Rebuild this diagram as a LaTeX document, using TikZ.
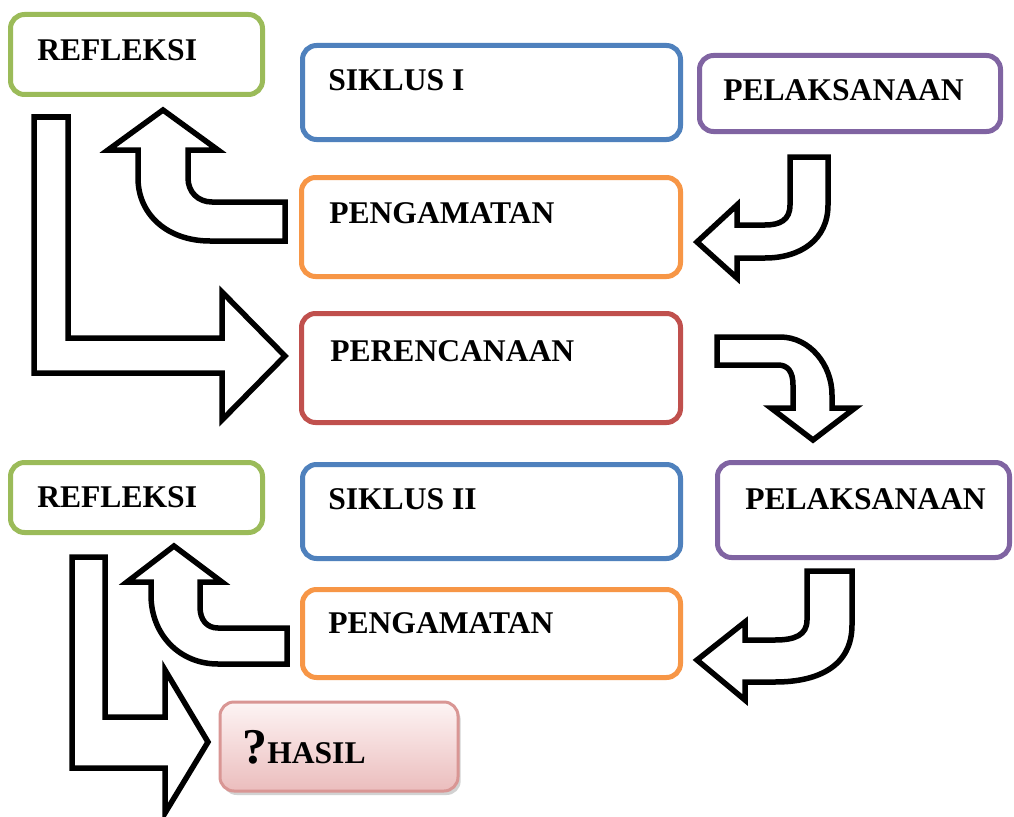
\documentclass[tikz,border=0pt]{standalone}
\usepackage{fontspec}
\setmainfont{Liberation Serif}
\usetikzlibrary{shadows}
\newcommand\upx{0.75pt}
\definecolor{cgreen}{HTML}{9BBB59}
\definecolor{cblue}{HTML}{4F81BD}
\definecolor{cpurple}{HTML}{8064A2}
\definecolor{corange}{HTML}{F79646}
\definecolor{cred}{HTML}{C0504D}
\definecolor{pinkborder}{HTML}{D99694}
\definecolor{pinktop}{HTML}{FDF4F4}
\definecolor{pinkbot}{HTML}{EBBDBD}
\tikzset{
  box/.style={draw=#1, line width=5*\upx, rounded corners=14*\upx, fill=white, inner sep=0pt},
  lbl/.style={anchor=base west, inner sep=0pt, font=\fontsize{23.7}{28}\selectfont\bfseries},
  blockarrow/.style={draw=black, fill=white, line width=5.5*\upx, line join=miter},
}
\begin{document}
\begin{tikzpicture}[x=0.75pt,y=-0.75pt]
\useasboundingbox[fill=white] (0,0) rectangle (1014,817);

% boxes
\node[box=cgreen, minimum width=252*\upx, minimum height=80*\upx] (ref1) at (136.5,54.5) {};
\node[box=cblue, minimum width=378*\upx, minimum height=94*\upx] (sik1) at (491.5,92.5) {};
\node[box=cpurple, minimum width=301*\upx, minimum height=76*\upx] (pel1) at (850,93.5) {};
\node[box=corange, minimum width=379*\upx, minimum height=99*\upx] (peng1) at (491,227) {};
\node[box=cred, minimum width=379*\upx, minimum height=109*\upx] (per) at (491,368) {};
\node[box=cgreen, minimum width=252*\upx, minimum height=70*\upx] (ref2) at (136.5,497.5) {};
\node[box=cblue, minimum width=378*\upx, minimum height=94*\upx] (sik2) at (491.5,511.5) {};
\node[box=cpurple, minimum width=292*\upx, minimum height=95*\upx] (pel2) at (863.5,510) {};
\node[box=corange, minimum width=378*\upx, minimum height=88*\upx] (peng2) at (491.5,633.5) {};
\node[draw=pinkborder, line width=3*\upx, rounded corners=14*\upx, top color=pinktop, bottom color=pinkbot,
      drop shadow={shadow xshift=2pt, shadow yshift=-3pt, opacity=0.35},
      minimum width=238*\upx, minimum height=89*\upx, inner sep=0pt] (hasil) at (339,746.5) {};

% labels
\node[lbl] (tref1) at (37,61) {REFLEKSI};
\node[lbl] (tsik1) at (328,90) {SIKLUS I};
\node[lbl] (tpel1) at (723,101) {PELAKSANAAN};
\node[lbl] (tpeng1) at (329,223) {PENGAMATAN};
\node[lbl] (tper) at (330,361) {PERENCANAAN};
\node[lbl] (tref2) at (37,507) {REFLEKSI};
\node[lbl] (tsik2) at (328,509) {SIKLUS II};
\node[lbl] (tpel2) at (745,509) {PELAKSANAAN};
\node[lbl] (tpeng2) at (328,633) {PENGAMATAN};
\node[lbl] (thasil) at (242,763) {{\fontsize{37.5}{40}\selectfont ?}HASIL};

% arrow A: pengamatan 1 -> refleksi 1
\draw[blockarrow] (285,202) -- (212,202) .. controls (198,202) and (188,192) .. (188,178)
  -- (188,150) -- (218,150) -- (163,110) -- (108,150) -- (138,150) -- (138,178)
  .. controls (138,215) and (168,241) .. (210,241) -- (285,241) -- cycle;

% arrow B: refleksi 1 -> perencanaan
\draw[blockarrow] (34,117) -- (68,117) -- (68,338) -- (222,338) -- (222,292) -- (285,356)
  -- (222,420) -- (222,373) -- (34,373) -- cycle;

% arrow C: pelaksanaan 1 -> pengamatan 1
\draw[blockarrow] (790,157) -- (828,157) -- (828,205) .. controls (828,240) and (800,258) .. (765,258)
  -- (737,258) -- (737,278) -- (697,242) -- (737,205) -- (737,225) -- (765,225)
  .. controls (780,225) and (790,220) .. (790,205) -- cycle;

% arrow D: perencanaan -> pelaksanaan 2
\draw[blockarrow] (717,337) -- (780,337) .. controls (810,337) and (832,365) .. (832,395)
  -- (832,408) -- (855,408) -- (813,440) -- (771,408) -- (793,408) -- (793,385)
  .. controls (793,372) and (788,365) .. (778,365) -- (717,365) -- cycle;

% arrow E: pengamatan 2 -> refleksi 2
\draw[blockarrow] (287,628) -- (218,628) .. controls (207,628) and (200,620) .. (200,607)
  -- (200,582) -- (222,582) -- (174,546) -- (127,582) -- (151,582) -- (151,595)
  .. controls (151,635) and (180,664) .. (218,664) -- (287,664) -- cycle;

% arrow F: refleksi 2 -> hasil
\draw[blockarrow] (72,557) -- (105,557) -- (105,717) -- (165,717) -- (165,670) -- (208,742)
  -- (165,813) -- (165,768) -- (72,768) -- cycle;

% arrow G: pelaksanaan 2 -> pengamatan 2
\draw[blockarrow] (807,571) -- (852,571) -- (852,625) .. controls (852,665) and (820,682) .. (775,682)
  -- (745,682) -- (745,700) -- (697,660) -- (745,622) -- (745,640) -- (775,640)
  .. controls (795,640) and (807,635) .. (807,620) -- cycle;
\end{tikzpicture}
\end{document}
